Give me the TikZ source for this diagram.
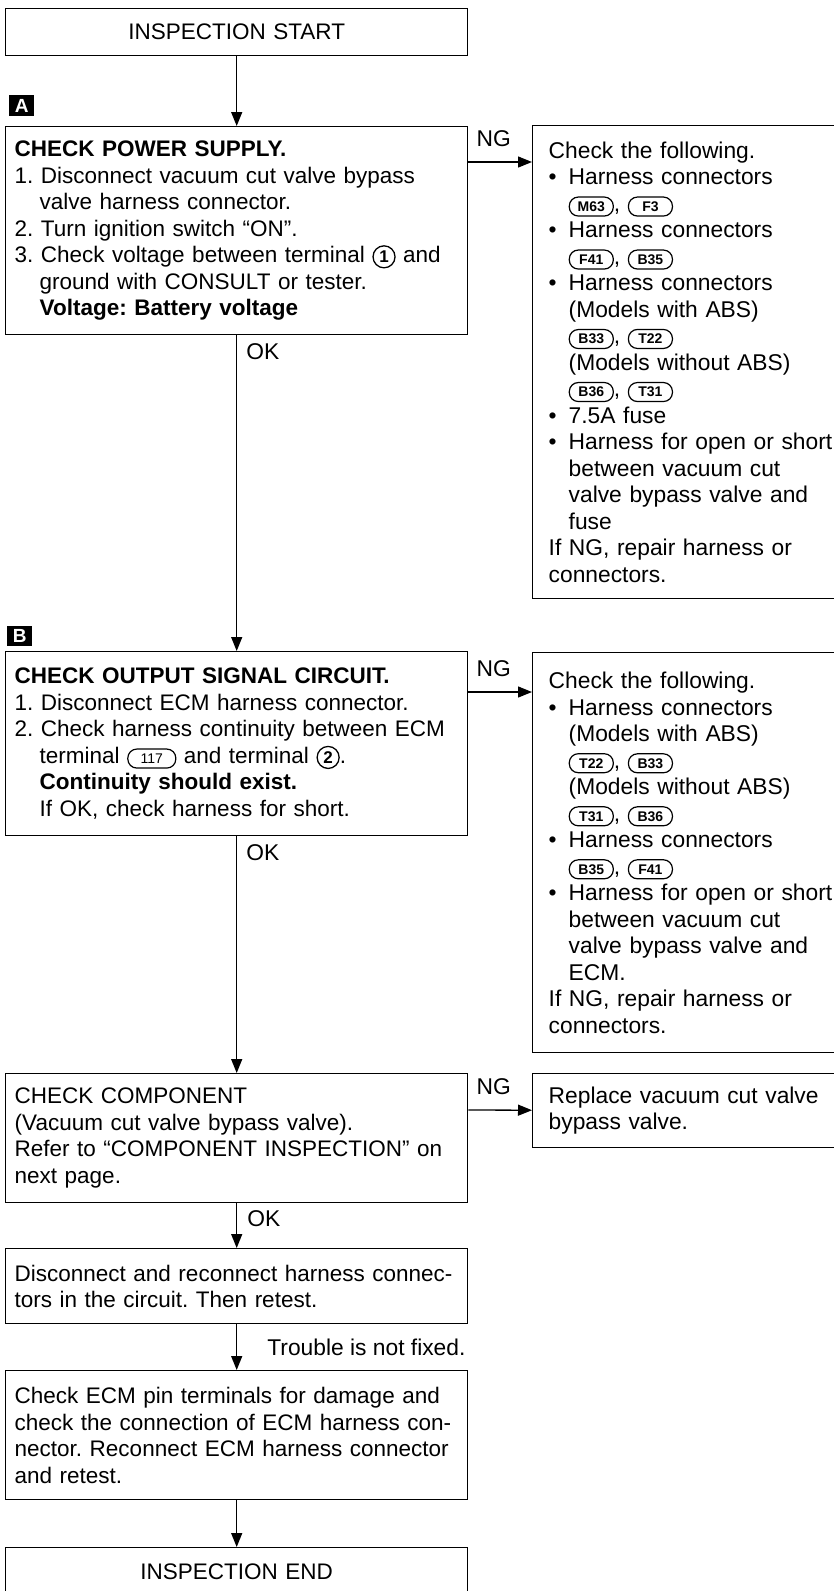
\documentclass[tikz,border=0pt]{standalone}
\usepackage{fontspec}
\setmainfont{Liberation Sans}
\usetikzlibrary{arrows.meta,positioning}
\frenchspacing

% connector badge, pin badge and circled terminal number
\newcommand{\conn}[1]{\tikz[baseline=(cn.base)]\node[draw,line width=1.2pt,rounded corners=9pt,anchor=center,text width=,align=center,minimum width=44pt,minimum height=19pt,inner xsep=5pt,inner ysep=1.5pt,font=\fontsize{14}{14}\selectfont\bfseries] (cn) {#1};}
\newcommand{\pin}[1]{\tikz[baseline=(pn.base)]\node[draw,line width=1.2pt,rounded corners=9pt,anchor=center,text width=,align=center,minimum width=48pt,minimum height=19pt,inner xsep=5pt,inner ysep=1.5pt,font=\fontsize{14}{14}\selectfont] (pn) {#1};}
\newcommand{\term}[1]{\tikz[baseline=(tn.base)]\node[draw,circle,line width=1.3pt,anchor=center,text width=,align=center,minimum size=22pt,inner sep=0pt,font=\fontsize{17}{17}\selectfont\bfseries] (tn) {#1};}
\newcommand{\stepind}{\hspace*{25pt}}
\newcommand{\subind}{\hspace*{20pt}}
\newcommand{\bl}{\makebox[20pt][l]{\textbullet}}

\begin{document}
\begin{tikzpicture}[x=1pt,y=1pt,>={Triangle[length=14pt,width=11pt]},
    box/.style={draw,line width=1.4pt,anchor=north west,minimum width=462pt,
      text width=444pt,inner xsep=9pt,inner ysep=0pt,align=left,
      font=\fontsize{22.5}{26.5}\selectfont},
    endbox/.style={box,align=center},
    sidebox/.style={draw,line width=1.4pt,anchor=north west,minimum width=320pt,
      text width=288pt,inner xsep=16pt,inner ysep=0pt,align=left,
      font=\fontsize{22.8}{26.5}\selectfont},
    secbadge/.style={fill=black,text=white,anchor=north west,minimum width=25pt,
      minimum height=21pt,inner sep=0pt,font=\fontsize{19}{19}\selectfont\bfseries},
    lbl/.style={inner sep=0pt,font=\fontsize{22.8}{27}\selectfont},
    flow/.style={->,line width=1.3pt}]
  \useasboundingbox (0,0) rectangle (833,-1591);

  % main column
  \node[endbox,minimum height=47pt] (start) at (5,-8) {INSPECTION START};
  \node[secbadge] (secA) at (9,-95) {A};
  \node[box,minimum height=208pt] (pwr) at (5,-126)
    {\textbf{CHECK POWER SUPPLY.}\\
     1. Disconnect vacuum cut valve bypass\\
     \stepind valve harness connector.\\
     2. Turn ignition switch “ON”.\\
     3. Check voltage between terminal \term{1} and\\
     \stepind ground with CONSULT or tester.\\
     \stepind\textbf{Voltage: Battery voltage}};
  \node[secbadge,minimum height=20pt] (secB) at (7,-626) {B};
  \node[box,minimum height=184pt] (sig) at (5,-651)
    {\textbf{CHECK OUTPUT SIGNAL CIRCUIT.}\\
     1. Disconnect ECM harness connector.\\
     2. Check harness continuity between ECM\\
     \stepind terminal \pin{117} and terminal \term{2}.\\
     \stepind\textbf{Continuity should exist.}\\
     \stepind If OK, check harness for short.};
  \node[box,minimum height=129pt] (comp) at (5,-1073)
    {CHECK COMPONENT\\
     (Vacuum cut valve bypass valve).\\
     Refer to “COMPONENT INSPECTION” on\\
     next page.};
  \node[box,minimum height=75pt] (recon) at (5,-1248)
    {Disconnect and reconnect harness connec-\\
     tors in the circuit. Then retest.};
  \node[box,minimum height=129pt] (ecmchk) at (5,-1370)
    {Check ECM pin terminals for damage and\\
     check the connection of ECM harness con-\\
     nector. Reconnect ECM harness connector\\
     and retest.};
  \node[endbox,minimum height=49pt] (finish) at (5,-1547) {INSPECTION END};

  % NG side
  \node[sidebox,minimum height=473pt] (pwrfix) at (532,-125)
    {Check the following.\\
     \bl Harness connectors\\
     \subind\conn{M63}, \conn{F3}\\
     \bl Harness connectors\\
     \subind\conn{F41}, \conn{B35}\\
     \bl Harness connectors\\
     \subind (Models with ABS)\\
     \subind\conn{B33}, \conn{T22}\\
     \subind (Models without ABS)\\
     \subind\conn{B36}, \conn{T31}\\
     \bl 7.5A fuse\\
     \bl Harness for open or short\\
     \subind between vacuum cut\\
     \subind valve bypass valve and\\
     \subind fuse\\
     If NG, repair harness or\\
     connectors.};
  \node[sidebox,minimum height=400pt] (sigfix) at (532,-652)
    {Check the following.\\
     \bl Harness connectors\\
     \subind (Models with ABS)\\
     \subind\conn{T22}, \conn{B33}\\
     \subind (Models without ABS)\\
     \subind\conn{T31}, \conn{B36}\\
     \bl Harness connectors\\
     \subind\conn{B35}, \conn{F41}\\
     \bl Harness for open or short\\
     \subind between vacuum cut\\
     \subind valve bypass valve and\\
     \subind ECM.\\
     If NG, repair harness or\\
     connectors.};
  \node[sidebox,minimum height=74pt] (compfix) at (532,-1073)
    {Replace vacuum cut valve\\
     bypass valve.};

  % connectors
  \draw[flow] (start) -- (pwr);
  \draw[flow] (pwr) -- node[lbl,pos=0,anchor=north west,xshift=9pt,yshift=-8pt] {OK} (sig);
  \draw[flow] (sig) -- node[lbl,pos=0,anchor=north west,xshift=9pt,yshift=-8pt] {OK} (comp);
  \draw[flow] (comp) -- node[lbl,pos=0.35,right=10pt] {OK} (recon);
  \draw[flow] (recon) -- node[lbl,midway,right=30pt] {Trouble is not fixed.} (ecmchk);
  \draw[flow] (ecmchk) -- (finish);
  \draw[flow] ([yshift=-36pt]pwr.north east) -- node[lbl,pos=0.4,above=15pt] {NG} ([yshift=-37pt]pwrfix.north west);
  \draw[flow] ([yshift=-41pt]sig.north east) -- node[lbl,pos=0.4,above=15pt] {NG} ([yshift=-40pt]sigfix.north west);
  \draw[flow] ([yshift=-37pt]comp.north east) -- node[lbl,pos=0.4,above=15pt] {NG} (compfix);
\end{tikzpicture}
\end{document}
